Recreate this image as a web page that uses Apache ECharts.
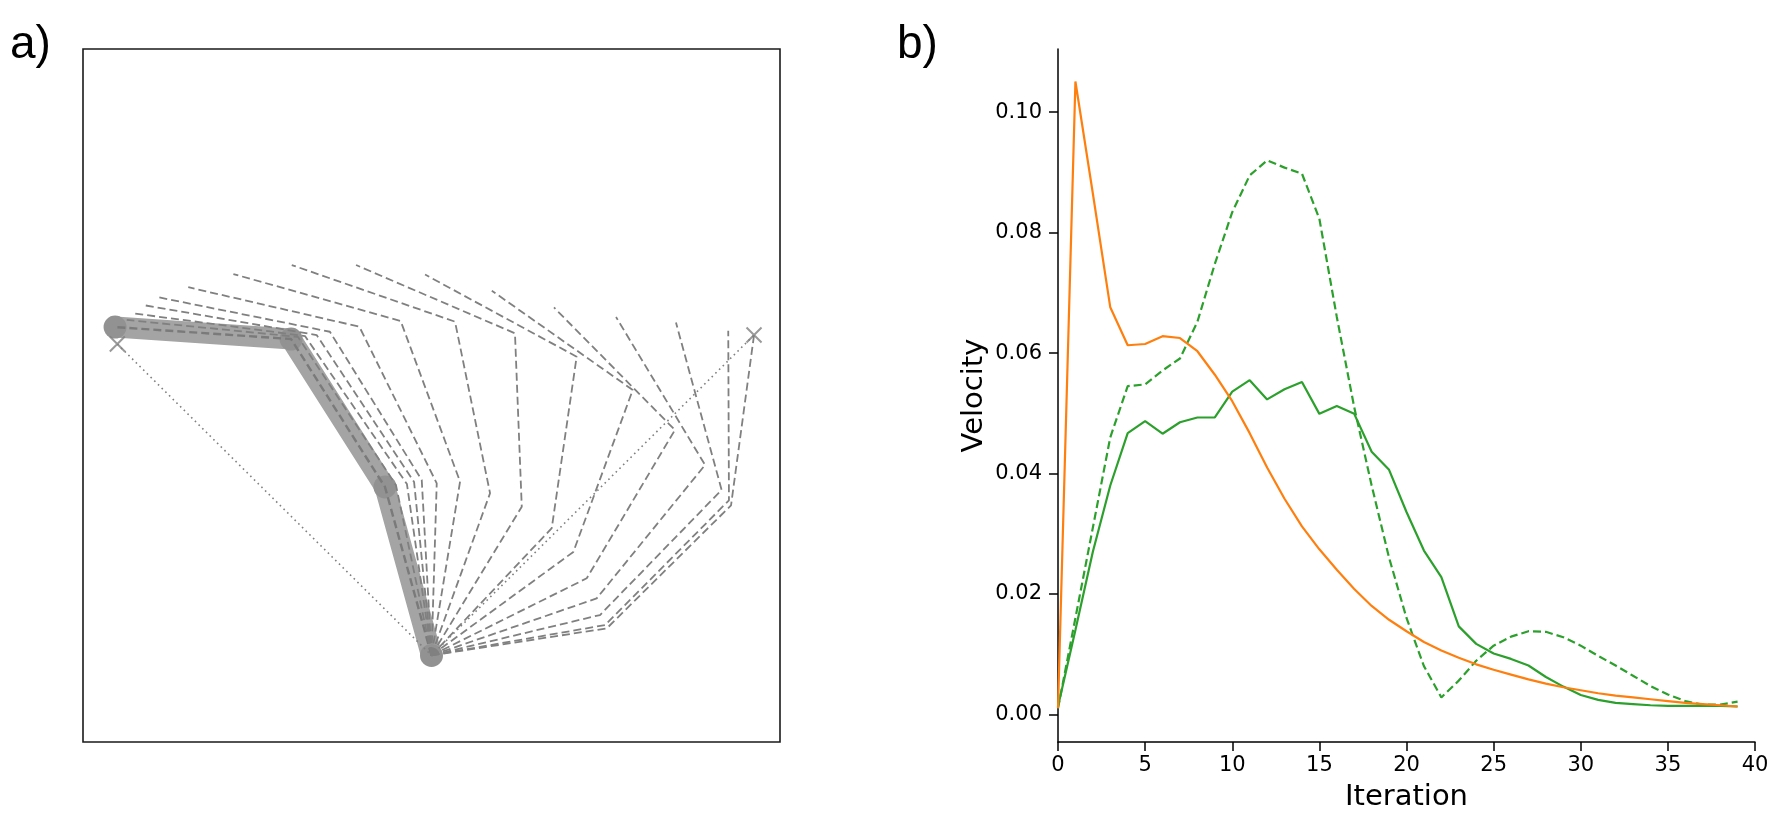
<!DOCTYPE html>
<html>
<head>
<meta charset="utf-8">
<script src="https://cdn.jsdelivr.net/npm/echarts@6/dist/echarts.min.js"></script>
<style>
html,body{margin:0;padding:0;background:#fff;}
#chart{width:1773px;height:828px;}
</style>
</head>
<body>
<div id="chart"></div>
<script>
// ---------- Panel a: arm configurations (link length = 1, base at origin) ----------
const BASE = [0, 0];
const INITIAL_ARM = [[0, 0], [-0.267, 0.972], [-0.806, 1.826], [-1.816, 1.895]];
const TARGET_START = [-1.803, 1.797];
const TARGET_END = [1.851, 1.849];
// lower elbow, upper elbow and hand of each intermediate configuration
const ELBOW_LOWER = [[-0.204, 0.983], [-0.141, 0.989], [-0.100, 1.001], [-0.056, 1.012], [0.030, 0.993],
  [0.164, 1.003], [0.336, 0.936], [0.518, 0.858], [0.690, 0.734], [0.814, 0.597], [0.891, 0.445],
  [0.948, 0.329], [0.967, 0.233], [0.996, 0.175], [1.006, 0.156]];
const ELBOW_UPPER = [[-0.766, 1.838], [-0.726, 1.843], [-0.659, 1.849], [-0.583, 1.868], [-0.414, 1.897],
  [-0.177, 1.930], [0.135, 1.926], [0.479, 1.859], [0.833, 1.724], [1.155, 1.532], [1.397, 1.301],
  [1.570, 1.099], [1.665, 0.955], [1.707, 0.895], [1.719, 0.866]];
const HAND = [[-1.749, 1.936], [-1.711, 1.974], [-1.654, 2.022], [-1.568, 2.067], [-1.396, 2.125],
  [-1.137, 2.201], [-0.802, 2.253], [-0.433, 2.253], [-0.037, 2.198], [0.346, 2.105], [0.703, 2.008],
  [1.059, 1.953], [1.403, 1.921], [1.703, 1.874], [1.851, 1.849]];

// ---------- Panel b: velocity per iteration ----------
const ITERATIONS = Array.from({length: 40}, (_, i) => i);
const VEL_ORANGE = [0.001, 0.1051, 0.0865, 0.0676, 0.0613, 0.0615, 0.0628, 0.0625, 0.0603, 0.0564,
  0.0520, 0.0467, 0.0410, 0.0358, 0.0312, 0.0274, 0.0240, 0.0208, 0.0180, 0.0157,
  0.0138, 0.0120, 0.0106, 0.0094, 0.0083, 0.0074, 0.0066, 0.0058, 0.0051, 0.0045,
  0.0040, 0.0035, 0.0031, 0.0028, 0.0025, 0.0022, 0.0019, 0.0017, 0.0015, 0.0013];
const VEL_GREEN = [0.0013, 0.014, 0.027, 0.038, 0.0467, 0.0487, 0.0466, 0.0485, 0.0493, 0.0493,
  0.0536, 0.0555, 0.0523, 0.0540, 0.0552, 0.0499, 0.0512, 0.0499, 0.0436, 0.0406,
  0.0336, 0.0272, 0.0228, 0.0146, 0.0117, 0.0101, 0.0092, 0.0081, 0.0062, 0.0046,
  0.0032, 0.0024, 0.0019, 0.0017, 0.0015, 0.0014, 0.0014, 0.0014, 0.0014, 0.0013];
const VEL_GREEN_DASHED = [0.001, 0.016, 0.031, 0.046, 0.0545, 0.0548, 0.0571, 0.0591, 0.0652, 0.0748,
  0.0834, 0.0895, 0.0920, 0.0908, 0.0898, 0.0823, 0.066, 0.051, 0.038, 0.026,
  0.016, 0.008, 0.0028, 0.0056, 0.0089, 0.0114, 0.0129, 0.0138, 0.0137, 0.0128,
  0.0114, 0.0097, 0.0081, 0.0064, 0.0047, 0.0033, 0.0022, 0.0016, 0.0016, 0.0021];
const X_TICKS = [0, 5, 10, 15, 20, 25, 30, 35, 40];
const Y_TICKS = [0, 0.02, 0.04, 0.06, 0.08, 0.10];

const FONT = "'DejaVu Sans', sans-serif";
const GRAY = '#808080';

const series = [];
// thick initial configuration
series.push({
  type: 'line', xAxisIndex: 0, yAxisIndex: 0, data: INITIAL_ARM,
  symbol: 'circle', symbolSize: 23, showSymbol: true,
  itemStyle: {color: '#929292'},
  lineStyle: {color: '#a4a4a4', width: 21, cap: 'round', join: 'round'},
  z: 1, silent: true
});
// dashed copy of the initial configuration
series.push({
  type: 'line', xAxisIndex: 0, yAxisIndex: 0, data: INITIAL_ARM, symbol: 'none',
  lineStyle: {color: '#7a7a7a', width: 2.4, type: [8, 4]}, z: 3, silent: true
});
for (let k = 0; k < HAND.length; k++) {
  series.push({
    type: 'line', xAxisIndex: 0, yAxisIndex: 0,
    data: [BASE, ELBOW_LOWER[k], ELBOW_UPPER[k], HAND[k]],
    symbol: 'none',
    lineStyle: {color: GRAY, width: 1.8, type: [8, 4]}, z: 3, silent: true
  });
}
// dotted guide
series.push({
  type: 'line', xAxisIndex: 0, yAxisIndex: 0,
  data: [TARGET_START, BASE, TARGET_END], symbol: 'none',
  lineStyle: {color: GRAY, width: 1.6, type: [1.6, 3.6]}, z: 3, silent: true
});
// target crosses
series.push({
  type: 'scatter', xAxisIndex: 0, yAxisIndex: 0,
  data: [TARGET_START, TARGET_END],
  symbol: 'path://M0,0L10,10M10,0L0,10', symbolSize: 15,
  itemStyle: {color: 'none', borderColor: GRAY, borderWidth: 2}, z: 4, silent: true
});

// panel b lines
const pairs = arr => ITERATIONS.map((x, i) => [x, arr[i]]);
series.push({
  type: 'line', xAxisIndex: 1, yAxisIndex: 1, data: pairs(VEL_GREEN_DASHED), symbol: 'none',
  lineStyle: {color: '#2ca02c', width: 2.2, type: [8, 4]}, z: 3
});
series.push({
  type: 'line', xAxisIndex: 1, yAxisIndex: 1, data: pairs(VEL_GREEN), symbol: 'none',
  lineStyle: {color: '#2ca02c', width: 2.2}, z: 3
});
series.push({
  type: 'line', xAxisIndex: 1, yAxisIndex: 1, data: pairs(VEL_ORANGE), symbol: 'none',
  lineStyle: {color: '#ff7f0e', width: 2.2}, z: 4
});

const chart = echarts.init(document.getElementById('chart'), null, {renderer: 'canvas'});
chart.setOption({
  animation: false,
  backgroundColor: '#ffffff',
  grid: [
    {left: 83, top: 49, width: 697, height: 693, show: true, borderColor: '#1a1a1a', borderWidth: 1.6, backgroundColor: 'transparent'},
    {left: 1058, top: 49, width: 697, height: 693}
  ],
  xAxis: [
    {gridIndex: 0, type: 'value', min: -2, max: 2, show: false},
    {gridIndex: 1, type: 'value', min: 0, max: 40, interval: 5,
      axisLine: {show: true, onZero: false, lineStyle: {color: '#000', width: 1.5}},
      axisTick: {show: true, inside: false, length: 9, lineStyle: {color: '#000', width: 1.5}},
      axisLabel: {show: true, margin: 13, color: '#000', fontSize: 21, fontFamily: FONT,
        customValues: X_TICKS},
      splitLine: {show: false},
      name: 'Iteration', nameLocation: 'middle', nameGap: 41,
      nameTextStyle: {fontSize: 29, fontFamily: FONT, color: '#000'}
    }
  ],
  yAxis: [
    {gridIndex: 0, type: 'value', min: -0.5, max: 3.5, show: false},
    {gridIndex: 1, type: 'value', min: -0.0046, max: 0.1105,
      axisLine: {show: true, onZero: false, lineStyle: {color: '#000', width: 1.5}},
      axisTick: {show: true, inside: false, length: 9, lineStyle: {color: '#000', width: 1.5},
        customValues: Y_TICKS},
      axisLabel: {show: true, margin: 16, color: '#000', fontSize: 21, fontFamily: FONT,
        customValues: Y_TICKS, formatter: v => v.toFixed(2)},
      splitLine: {show: false},
      name: 'Velocity', nameLocation: 'middle', nameGap: 69,
      nameTextStyle: {fontSize: 29, fontFamily: FONT, color: '#000'}
    }
  ],
  graphic: [
    {type: 'text', left: 10, top: 22, style: {text: 'a)', fontSize: 46, fontFamily: "'Liberation Sans', Arial, sans-serif", fill: '#000'}},
    {type: 'text', left: 897, top: 22, style: {text: 'b)', fontSize: 46, fontFamily: "'Liberation Sans', Arial, sans-serif", fill: '#000'}}
  ],
  series: series
});
</script>
</body>
</html>
